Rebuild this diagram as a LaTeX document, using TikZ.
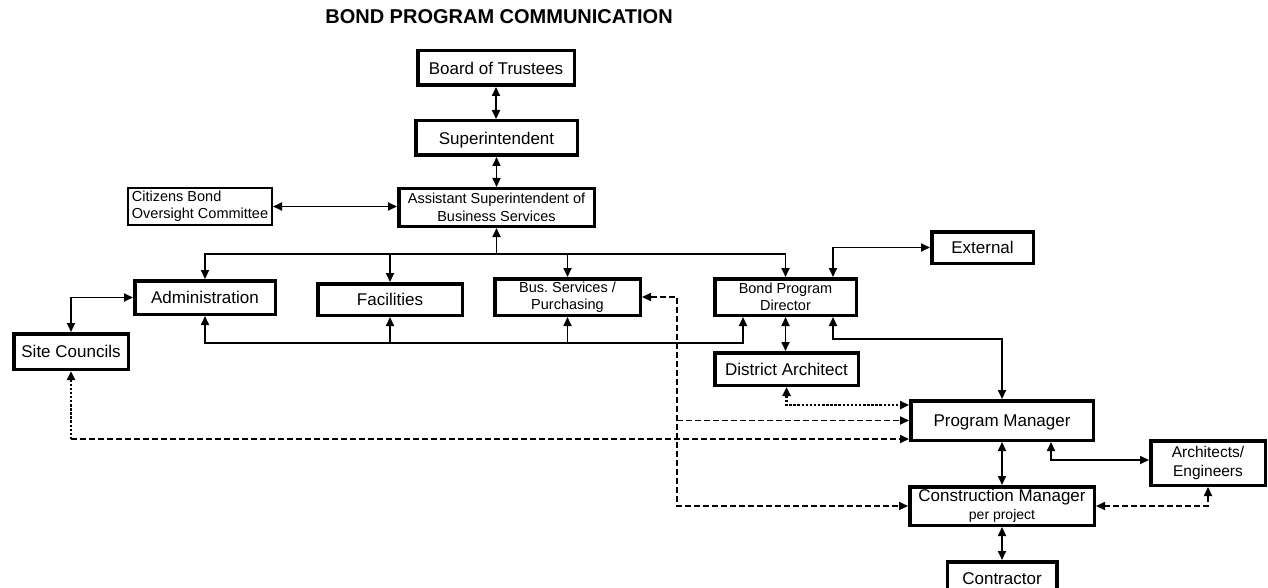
\documentclass[tikz,border=0pt]{standalone}
\usepackage{fontspec}
\setmainfont{Liberation Sans}
\usetikzlibrary{arrows.meta}
\newcommand{\fsz}[2]{\fontsize{#1}{#2}\selectfont}
\frenchspacing

\begin{document}
\begin{tikzpicture}[x=1pt,y=-1pt,
  box/.style={draw, line width=3.5pt, inner sep=0pt, align=center, font=\fsz{17}{20}},
  one/.style={text height=12.2pt, text depth=0pt},
  sz/.style 2 args={minimum width={#1-3.5}, minimum height={#2-3.5}},
  small/.style={font=\fsz{14.5}{17.5}},
  conn/.style={line width=1.7pt},
  tip/.style={-{Triangle[length=9pt,width=8pt]}},
  tipr/.style={{Triangle[length=9pt,width=8pt]}-},
  both/.style={{Triangle[length=9pt,width=8pt]}-{Triangle[length=9pt,width=8pt]}},
  dsh/.style={line width=1.7pt, dash pattern=on 6pt off 3pt},
  dots/.style={line width=2.8pt, dash pattern=on 2.5pt off 1.6pt}
]
\useasboundingbox[fill=white] (0,0) rectangle (1268,588);
\clip (0,0) rectangle (1268,588);

% title
\node[font=\bfseries\fsz{20}{24}] (title) at (499,17) {BOND PROGRAM COMMUNICATION};

% boxes
\node[box, one, sz={160}{38}] (board) at (496,68) {Board of Trustees};
\node[box, one, sz={165}{38}] (sup) at (496.5,138) {Superintendent};
\node[box, small, sz={199}{41}] (asbs) at (496.5,207.5) {Assistant Superintendent of\\Business Services};
\node[draw, line width=2pt, inner sep=0pt, align=left, font=\fsz{14.5}{17.5},
      minimum width=144, minimum height=37] (cboc) at (200,206.5) {Citizens Bond\\Oversight Committee};
\node[box, one, sz={144}{37}] (admin) at (205,297.5) {Administration};
\node[box, one, sz={148}{35}] (fac) at (390,299.5) {Facilities};
\node[box, small, sz={149}{40}] (bus) at (567.5,297) {Bus. Services /\\Purchasing};
\node[box, small, sz={145}{40}] (bpd) at (785.5,297) {Bond Program\\Director};
\node[box, one, sz={105}{35}] (ext) at (982.5,247.5) {External};
\node[box, one, sz={118}{39}] (site) at (71,351.5) {Site Councils};
\node[box, one, sz={147}{36}] (da) at (786.5,369) {District Architect};
\node[box, one, sz={186}{43}] (pm) at (1002,420.5) {Program Manager};
\node[box, font=\fsz{15.5}{19}, sz={118}{48}] (ae) at (1208,463) {Architects/\\Engineers};
\node[box, font=\fsz{17}{17.5}, sz={188}{42}] (cm) at (1002,506) {Construction Manager\\{\fsz{14}{17}per project}};
\node[box, one, sz={113}{36}] (con) at (1002,578) {Contractor};

% routing coordinates
\coordinate (busy) at (0,254);
\coordinate (lowy) at (0,343);
\coordinate (dx) at (677,0);
\coordinate (bpdl) at (743,0);
\coordinate (bpdr) at (833,0);
\coordinate (pmy) at (0,339);
\coordinate (doty) at (0,405);
\coordinate (sitey) at (0,439);
\coordinate (pmr) at (1051,0);
\coordinate (aey) at (0,460);

% top chain
\draw[conn, both] (board.south) -- (board.south |- sup.north);
\draw[conn, both] (sup.south) -- (sup.south |- asbs.north);
\draw[conn, both] (cboc.east) -- (cboc.east -| asbs.west);

% distribution bus below the assistant superintendent
\draw[conn, tip] (asbs.south |- busy) -- (asbs.south);
\draw[conn, both] (admin.north) -- (admin.north |- busy) -| (bpd.north);
\draw[conn, tip] (fac.north |- busy) -- (fac.north);
\draw[conn, tip] (bus.north |- busy) -- (bus.north);

% return line from the bond program director
\draw[conn, both] (admin.south) -- (admin.south |- lowy) -| (bpdl |- bpd.south);
\draw[conn, tip] (fac.south |- lowy) -- (fac.south);
\draw[conn, tip] (bus.south |- lowy) -- (bus.south);

% administration and site councils
\draw[conn, both] (admin.west) -| (site.north);

% bond program director links
\draw[conn, both] (ext.west) -| (bpdr |- bpd.north);
\draw[conn, both] (bpd.south) -- (bpd.south |- da.north);
\draw[conn, both] (bpdr |- bpd.south) -- (bpdr |- pmy) -| (pm.north);

% district architect to program manager
\draw[dots, both] (da.south) |- (pm.west |- doty);

% purchasing to program and construction managers
\draw[dsh, both] (bus.east) -| (dx |- cm.west) -- (cm.west);
\draw[dsh, tip] (dx |- pm.west) -- (pm.west);

% site councils to program manager
\draw[dots, tipr] (site.south) -- (site.south |- sitey);
\draw[dsh, tip] (site.south |- sitey) -- (pm.west |- sitey);

% lower chain
\draw[conn, both] (pm.south) -- (cm.north);
\draw[conn, both] (cm.south) -- (con.north);
\draw[conn, both] (pmr |- pm.south) |- (ae.west |- aey);
\draw[dsh, both] (ae.south) |- (cm.east);
\end{tikzpicture}
\end{document}
